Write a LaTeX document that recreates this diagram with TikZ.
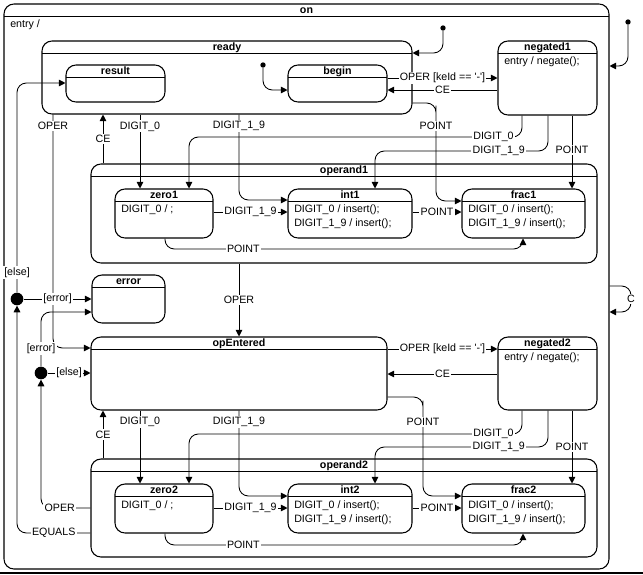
\documentclass[tikz,border=0pt]{standalone}
\usepackage{fontspec}
\setmainfont{Liberation Sans}
\usetikzlibrary{arrows.meta, fit}

\tikzset{
  state/.style={draw, rounded corners=7.5pt, inner sep=0pt, line width=0.8pt},
  stitle/.style={font=\fontsize{8}{10.5}\selectfont\bfseries, anchor=base, inner sep=0pt},
  sbody/.style={anchor=base west, inner sep=0pt},
  trans/.style={draw, line width=0.65pt, rounded corners=7pt, -{Triangle[length=5pt,width=5pt]}},
  lbl/.style={fill=white, inner sep=1pt, sharp corners},
  initdot/.style={circle, fill, inner sep=0pt, minimum size=4pt},
  choice/.style={circle, fill, inner sep=0pt, minimum size=9.5pt},
}

\begin{document}
\begin{tikzpicture}[x=0.75pt, y=-0.75pt, font=\fontsize{8}{10.5}\selectfont]
\useasboundingbox (0,0) rectangle (643,575);

% states: name / left / top / right / bottom (pixels)
\foreach \n/\xa/\ya/\xb/\yb in {on/4/4/609/569, ready/42/41/412/114,
    result/66/65/165/102, begin/288/65/387/102, negated1/498/41/597/115,
    operand1/91/164/597/263, zero1/115/189/213/238, int1/288/189/412/238,
    frac1/462/189/585/238, error/92/275/165/323, opEntered/91/337/387/410,
    negated2/498/337/597/410, operand2/91/459/597/557, zero2/115/484/213/533,
    int2/288/484/412/533, frac2/462/484/585/533}{
  \node[state, fit={(\xa,\ya) (\xb,\yb)}] (\n) {};
  \draw[line width=0.8pt] (\xa,\ya+12.5) -- (\xb,\ya+12.5);
  \node[stitle] (\n-t) at ({(\xa+\xb)/2},\ya+9.5) {\n};
}

% entry / actions
\node[sbody] (on-b) at (10,27) {entry /};
\node[sbody] (negated1-b) at (504,64.5) {entry / negate();};
\node[sbody] (negated2-b) at (504,360) {entry / negate();};
\node[sbody] (zero1-b) at (121,212) {DIGIT\_0 / ;};
\node[sbody] (zero2-b) at (121,508) {DIGIT\_0 / ;};
\node[sbody] (int1-a) at (294,212) {DIGIT\_0 / insert();};
\node[sbody] (int1-b) at (294,226) {DIGIT\_1\_9 / insert();};
\node[sbody] (frac1-a) at (468,212) {DIGIT\_0 / insert();};
\node[sbody] (frac1-b) at (468,226) {DIGIT\_1\_9 / insert();};
\node[sbody] (int2-a) at (294,508) {DIGIT\_0 / insert();};
\node[sbody] (int2-b) at (294,522) {DIGIT\_1\_9 / insert();};
\node[sbody] (frac2-a) at (468,508) {DIGIT\_0 / insert();};
\node[sbody] (frac2-b) at (468,522) {DIGIT\_1\_9 / insert();};

% pseudo states
\node[initdot] (i-on) at (628,22) {};
\node[initdot] (i-ready) at (443,28) {};
\node[initdot] (i-begin) at (263,65) {};
\node[choice] (c1) at (17,299) {};
\node[choice] (c2) at (41,373) {};

% initial transitions
\draw[trans] (i-on) |- (on.east |- 0,66);
\draw[trans] (i-ready) |- (ready.east |- 0,53);
\draw[trans] (i-begin) |- (begin.west |- 0,90);

% ready / operand1
\draw[trans] (begin.east |- 0,78) -- node[lbl]{OPER [keId == \textquotesingle-\textquotesingle]} (negated1.west |- 0,78);
\draw[trans] (negated1.west |- 0,90) -- node[lbl]{CE} (begin.east |- 0,90);
\draw[trans] (ready.east |- 0,103) -| (436,115) -- node[lbl]{POINT} (436,137) |- (frac1.west |- 0,201);
\draw[trans] (522,0 |- negated1.south) |- node[lbl, pos=0.73]{DIGIT\_0} (460,137) -| (189,0 |- zero1.north);
\draw[trans] (548,0 |- negated1.south) |- node[lbl, pos=0.78]{DIGIT\_1\_9} (460,151) -| (375,0 |- int1.north);
\draw[trans] (572,0 |- negated1.south) -- node[lbl, pos=0.47]{POINT} (572,0 |- frac1.north);
\draw[trans] (140,0 |- ready.south) -- node[lbl, pos=0.16]{DIGIT\_0} (140,0 |- zero1.north);
\draw[trans] (239,0 |- ready.south) -- node[lbl]{DIGIT\_1\_9} (239,138) |- (int1.west |- 0,200);
\draw[trans] (53,0 |- ready.south) -- node[lbl]{OPER} (53,138) |- (opEntered.west |- 0,348);
\draw[trans] (103,0 |- operand1.north) -- node[lbl]{CE} (103,0 |- ready.south);
\draw[trans] (zero1.east |- 0,212) -- node[lbl]{DIGIT\_1\_9} (int1.west |- 0,212);
\draw[trans] (int1.east |- 0,212) -- node[lbl]{POINT} (frac1.west |- 0,212);
\draw[trans] (165,0 |- zero1.south) |- node[lbl, pos=0.79]{POINT} (300,249) -| (523,0 |- frac1.south);
\draw[trans] (239,0 |- operand1.south) -- node[lbl]{OPER} (239,0 |- opEntered.north);

% choices
\draw[trans] (c1) -- node[lbl]{[error]} (error.west |- c1);
\draw[trans] (c1) -- node[lbl]{[else]} (17,253) |- (result.west |- 0,83);
\draw[trans] (operand2.west |- 0,533) -- node[lbl]{EQUALS} (17,533) -- (c1);
\draw[trans] (c2) -- node[lbl]{[else]} (opEntered.west |- c2);
\draw[trans] (c2) -- node[lbl]{[error]} (41,331) |- (error.west |- 0,312);
\draw[trans] (operand2.west |- 0,508) -- node[lbl, pos=0.62]{OPER} (41,508) -- (c2);

% opEntered / operand2
\draw[trans] (opEntered.east |- 0,349) -- node[lbl]{OPER [keId == \textquotesingle-\textquotesingle]} (negated2.west |- 0,349);
\draw[trans] (negated2.west |- 0,374) -- node[lbl]{CE} (opEntered.east |- 0,374);
\draw[trans] (opEntered.east |- 0,397) -| (423,410) -- node[lbl]{POINT} (423,434) |- (frac2.west |- 0,496);
\draw[trans] (522,0 |- negated2.south) |- node[lbl, pos=0.73]{DIGIT\_0} (460,434) -| (189,0 |- zero2.north);
\draw[trans] (548,0 |- negated2.south) |- node[lbl, pos=0.78]{DIGIT\_1\_9} (460,447) -| (375,0 |- int2.north);
\draw[trans] (572,0 |- negated2.south) -- node[lbl]{POINT} (572,0 |- frac2.north);
\draw[trans] (140,0 |- opEntered.south) -- node[lbl, pos=0.16]{DIGIT\_0} (140,0 |- zero2.north);
\draw[trans] (239,0 |- opEntered.south) -- node[lbl]{DIGIT\_1\_9} (239,434) |- (int2.west |- 0,496);
\draw[trans] (103,0 |- operand2.north) -- node[lbl]{CE} (103,0 |- opEntered.south);
\draw[trans] (zero2.east |- 0,508) -- node[lbl]{DIGIT\_1\_9} (int2.west |- 0,508);
\draw[trans] (int2.east |- 0,508) -- node[lbl]{POINT} (frac2.west |- 0,508);
\draw[trans] (165,0 |- zero2.south) |- node[lbl, pos=0.79]{POINT} (300,545) -| (523,0 |- frac2.south);

% self loop on "on"
\draw[trans] (on.east |- 0,286) -| node[lbl, pos=0.75]{C} (631,312) -- (on.east |- 0,312);

\draw[line width=1pt] (0,573) -- (643,573);
\end{tikzpicture}
\end{document}
